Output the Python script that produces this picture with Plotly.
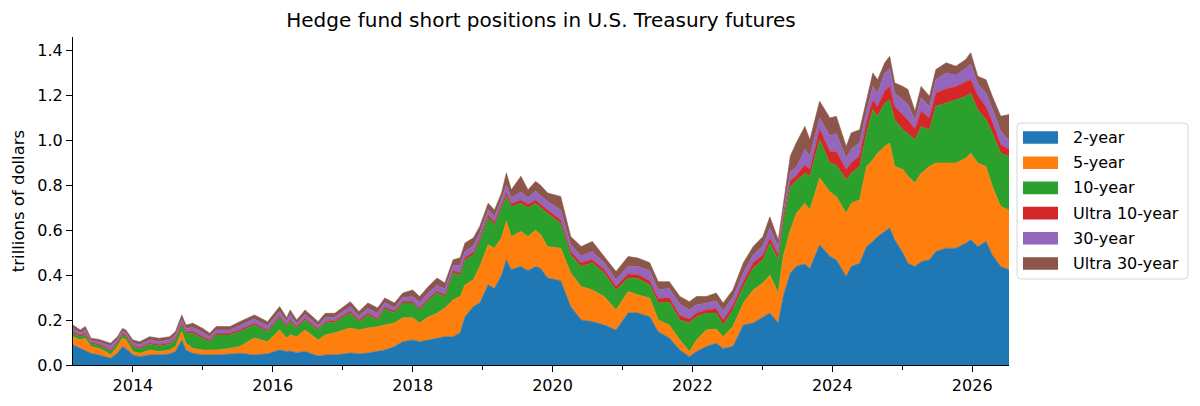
import plotly.graph_objects as go

dates = [
    "2013-02-22", "2013-04-01", "2013-04-27", "2013-05-27", "2013-07-08", "2013-08-11",
    "2013-09-06", "2013-10-12", "2013-11-07", "2013-11-25", "2014-01-01", "2014-02-06",
    "2014-03-29", "2014-05-19", "2014-07-12", "2014-08-11", "2014-09-13", "2014-10-05",
    "2014-11-10", "2015-01-01", "2015-02-06", "2015-03-11", "2015-05-23", "2015-07-13",
    "2015-09-27", "2015-12-05", "2016-02-06", "2016-03-14", "2016-04-01", "2016-05-05",
    "2016-06-18", "2016-08-25", "2016-10-01", "2016-11-20", "2017-02-09", "2017-03-26",
    "2017-05-12", "2017-07-02", "2017-08-08", "2017-09-28", "2017-11-10", "2018-01-01",
    "2018-02-06", "2018-03-25", "2018-05-08", "2018-06-18", "2018-07-31", "2018-09-06",
    "2018-10-01", "2018-11-14", "2018-12-17", "2019-01-30", "2019-03-04", "2019-04-10",
    "2019-05-05", "2019-05-31", "2019-07-20", "2019-08-26", "2019-10-05", "2019-10-31",
    "2019-12-06", "2020-02-13", "2020-04-05", "2020-05-30", "2020-07-27", "2020-09-27",
    "2020-11-28", "2021-01-30", "2021-03-22", "2021-05-23", "2021-07-06", "2021-09-02",
    "2021-10-27", "2021-12-16", "2022-01-22", "2022-03-14", "2022-05-05", "2022-06-10",
    "2022-07-31", "2022-09-24", "2022-11-14", "2023-01-04", "2023-02-09", "2023-03-25",
    "2023-04-20", "2023-05-27", "2023-06-28", "2023-08-11", "2023-09-06", "2023-10-27",
    "2023-12-20", "2024-01-22", "2024-03-14", "2024-04-09", "2024-05-23", "2024-06-28",
    "2024-07-31", "2024-08-25", "2024-10-01", "2024-10-27", "2024-11-22", "2025-01-04",
    "2025-01-30", "2025-03-08", "2025-04-09", "2025-05-23", "2025-06-25", "2025-08-18",
    "2025-10-08", "2025-11-28", "2025-12-24", "2026-01-30", "2026-03-14", "2026-04-16",
    "2026-05-30", "2026-07-12",
]

two_year = [
    .089, .074, .067, .052, .045, .037, .030, .052, .082, .074, .045, .037,
    .045, .045, .049, .060, .111, .067, .052, .045, .045, .045, .049, .052,
    .045, .050, .067, .060, .062, .055, .060, .040, .045, .045, .053, .050,
    .053, .060, .067, .082, .104, .111, .104, .111, .120, .126, .126, .143,
    .215, .260, .276, .357, .340, .400, .468, .424, .438, .420, .438, .430,
    .387, .375, .260, .200, .193, .178, .156, .232, .232, .215, .148, .120,
    .067, .037, .060, .082, .097, .074, .082, .178, .187, .215, .232, .187,
    .305, .410, .440, .450, .430, .535, .483, .468, .394, .438, .453, .527,
    .550, .572, .594, .610, .557, .498, .453, .438, .460, .468, .505, .520,
    .520, .542, .557, .527, .550, .490, .438, .424,
]
five_year = [
    .037, .038, .052, .030, .029, .023, .015, .030, .037, .038, .015, .015,
    .022, .015, .018, .022, .038, .030, .022, .022, .022, .022, .025, .030,
    .075, .054, .089, .060, .073, .071, .096, .071, .089, .098, .112, .106,
    .112, .110, .111, .105, .106, .099, .083, .104, .110, .128, .164, .162,
    .142, .119, .162, .178, .180, .166, .172, .148, .156, .152, .162, .150,
    .140, .145, .150, .149, .141, .127, .089, .095, .080, .083, .052, .058,
    .044, .023, .051, .074, .063, .052, .089, .098, .147, .150, .168, .133,
    .178, .190, .236, .270, .260, .297, .287, .282, .282, .282, .282, .357,
    .364, .371, .379, .378, .327, .372, .387, .372, .394, .416, .394, .379,
    .379, .378, .386, .372, .334, .305, .268, .266,
]
ten_year = [
    .015, .015, .015, .013, .014, .015, .017, .015, .015, .014, .020, .020,
    .025, .025, .025, .030, .029, .044, .067, .052, .037, .067, .060, .067,
    .058, .044, .054, .050, .060, .039, .044, .045, .053, .047, .067, .037,
    .058, .030, .072, .045, .066, .066, .058, .075, .090, .051, .120, .095,
    .111, .111, .112, .120, .104, .134, .110, .133, .126, .128, .120, .120,
    .150, .110, .080, .089, .121, .105, .089, .060, .073, .059, .076, .102,
    .089, .127, .104, .074, .072, .052, .074, .073, .098, .103, .143, .148,
    .150, .195, .144, .134, .150, .171, .129, .140, .149, .134, .149, .149,
    .223, .164, .193, .192, .208, .177, .190, .193, .208, .163, .253, .267,
    .281, .276, .267, .238, .208, .238, .237, .239,
]
ultra_ten_year = [
    .007, .006, .006, .005, .005, .005, .005, .005, .006, .006, .006, .006,
    .006, .006, .006, .006, .008, .007, .009, .008, .007, .007, .007, .008,
    .008, .007, .008, .007, .007, .007, .007, .006, .007, .007, .008, .007,
    .008, .007, .008, .008, .008, .008, .008, .008, .008, .008, .010, .010,
    .012, .012, .012, .013, .012, .012, .015, .013, .015, .015, .015, .015,
    .015, .015, .015, .017, .015, .015, .016, .018, .017, .018, .019, .020,
    .020, .018, .017, .015, .018, .022, .020, .023, .023, .022, .022, .022,
    .022, .025, .025, .036, .030, .047, .051, .060, .045, .046, .046, .047,
    .043, .043, .054, .060, .058, .063, .060, .047, .068, .053, .058, .064,
    .060, .064, .060, .063, .058, .047, .037, .031,
]
thirty_year = [
    .015, .010, .016, .008, .009, .012, .018, .011, .012, .012, .011, .012,
    .013, .013, .013, .016, .015, .015, .017, .018, .015, .015, .015, .018,
    .019, .020, .020, .016, .023, .013, .018, .013, .016, .015, .020, .018,
    .021, .023, .020, .016, .016, .021, .025, .024, .027, .025, .022, .035,
    .025, .028, .025, .024, .024, .026, .035, .027, .035, .030, .040, .040,
    .036, .045, .030, .030, .035, .030, .030, .035, .036, .045, .040, .040,
    .050, .040, .036, .030, .035, .040, .035, .038, .035, .040, .045, .035,
    .025, .040, .035, .070, .060, .050, .070, .080, .050, .060, .060, .050,
    .060, .060, .080, .080, .060, .070, .070, .040, .060, .050, .060, .070,
    .050, .060, .070, .050, .060, .060, .060, .040,
]
ultra_thirty_year = [
    .015, .013, .015, .011, .012, .012, .012, .013, .011, .012, .014, .014,
    .015, .015, .015, .015, .022, .015, .019, .018, .015, .015, .015, .018,
    .018, .018, .022, .017, .020, .015, .020, .018, .020, .018, .022, .020,
    .024, .024, .020, .020, .020, .029, .027, .028, .032, .027, .026, .032,
    .038, .036, .030, .028, .030, .028, .055, .035, .070, .035, .042, .045,
    .038, .060, .037, .042, .045, .028, .036, .043, .038, .035, .036, .031,
    .035, .037, .037, .030, .035, .036, .034, .045, .037, .042, .050, .032,
    .025, .070, .110, .102, .073, .074, .080, .077, .053, .073, .057, .051,
    .060, .060, .045, .054, .046, .060, .066, .040, .050, .046, .045, .045,
    .040, .040, .050, .035, .060, .056, .067, .115,
]

series_names = ["2-year", "5-year", "10-year", "Ultra 10-year", "30-year", "Ultra 30-year"]
series_values = [two_year, five_year, ten_year, ultra_ten_year, thirty_year, ultra_thirty_year]
colors = ["#1f77b4", "#ff7f0e", "#2ca02c", "#d62728", "#9467bd", "#8c564b"]

y_ticks = [0.0, 0.2, 0.4, 0.6, 0.8, 1.0, 1.2, 1.4]
x_tick_years = ["2014", "2016", "2018", "2020", "2022", "2024", "2026"]

FONT = "DejaVu Sans"

fig = go.Figure()
for name, vals, col in zip(series_names, series_values, colors):
    fig.add_trace(go.Scatter(
        x=dates, y=vals, name=name, mode="lines", stackgroup="one",
        line=dict(width=0.6, color=col), fillcolor=col, showlegend=False,
    ))

# plot area geometry (pixels)
L, R, T, B = 73, 191, 37, 41
W, H = 1200, 406
pw, ph = W - L - R, H - T - B


def px_x(p):
    return (p - L) / pw


def px_y(p):
    return (H - B - p) / ph


# legend drawn as box + swatches + text
shapes = []
annotations = []
bx0, bx1, by0, by1 = px_x(1017), px_x(1188), px_y(279), px_y(123)
rx, ry = 4 / pw, 4 / ph
path = (f"M{bx0+rx},{by0} L{bx1-rx},{by0} Q{bx1},{by0} {bx1},{by0+ry} "
        f"L{bx1},{by1-ry} Q{bx1},{by1} {bx1-rx},{by1} L{bx0+rx},{by1} "
        f"Q{bx0},{by1} {bx0},{by1-ry} L{bx0},{by0+ry} Q{bx0},{by0} {bx0+rx},{by0} Z")
shapes.append(dict(type="path", xref="paper", yref="paper", path=path,
                   line=dict(color="#d6d6d6", width=1), fillcolor="rgba(255,255,255,0.8)",
                   layer="above"))
for i, (name, col) in enumerate(zip(series_names, colors)):
    cy = 137.5 + 25.2 * i
    shapes.append(dict(type="rect", xref="paper", yref="paper",
                       x0=px_x(1023), x1=px_x(1058), y0=px_y(cy + 6.3), y1=px_y(cy - 6.3),
                       line=dict(width=0), fillcolor=col, layer="above"))
    annotations.append(dict(xref="paper", yref="paper", x=px_x(1071), y=px_y(cy),
                            xanchor="left", yanchor="middle", text=name, showarrow=False,
                            font=dict(family=FONT, size=16, color="#000000")))

fig.update_layout(
    width=W, height=H,
    margin=dict(l=L, r=R, t=T, b=B),
    paper_bgcolor="white", plot_bgcolor="white",
    font=dict(family=FONT, size=16, color="#000000"),
    title=dict(text="Hedge fund short positions in U.S. Treasury futures",
               x=px_x(541), xref="paper", xanchor="center",
               y=1 - 20 / H, yref="container", yanchor="middle",
               font=dict(family=FONT, size=20, color="#000000")),
    showlegend=False,
    shapes=shapes,
    annotations=annotations,
    hovermode=False,
)
fig.update_xaxes(
    type="date",
    range=[dates[0], dates[-1]],
    tickvals=[f"{y}-01-01" for y in x_tick_years],
    ticktext=x_tick_years,
    ticks="outside", ticklen=6, tickwidth=1.2, tickcolor="#000000",
    showline=True, linecolor="#000000", linewidth=1.2,
    showgrid=False, zeroline=False,
    tickfont=dict(family=FONT, size=16, color="#000000"),
    minor=dict(dtick="M12", tick0="2013-01-01", ticks="outside", ticklen=3.5,
               tickwidth=1, tickcolor="#000000", showgrid=False),
)
fig.update_yaxes(
    range=[0, 1.46],
    tickvals=y_ticks,
    ticktext=[f"{v:.1f}" for v in y_ticks],
    ticks="outside", ticklen=6, tickwidth=1.2, tickcolor="#000000",
    showline=True, linecolor="#000000", linewidth=1.2,
    showgrid=False, zeroline=False,
    tickfont=dict(family=FONT, size=16, color="#000000"),
    title=dict(text="trillions of dollars", standoff=8,
               font=dict(family=FONT, size=16.5, color="#000000")),
)

fig.write_html(
    "out.html",
    config={"displayModeBar": False},
    post_script="document.body.style.margin='0';document.body.style.overflow='hidden';",
)
